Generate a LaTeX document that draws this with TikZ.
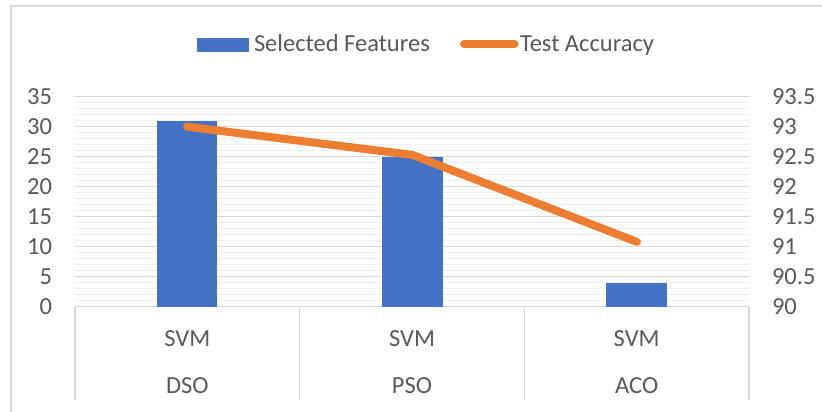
\documentclass[tikz,border=0pt]{standalone}
\usepackage{fontspec}
\setmainfont{Carlito}
\definecolor{barblue}{HTML}{4472C4}
\definecolor{lineorange}{HTML}{ED7D31}
\definecolor{txtgray}{HTML}{595959}
\definecolor{majgrid}{HTML}{D9D9D9}
\definecolor{mingrid}{HTML}{F0F0F0}
\definecolor{framegray}{HTML}{D9D9D9}
\tikzset{
  lbl/.style={text=txtgray, font=\fontsize{24.5}{29}\selectfont, inner sep=0pt, outer sep=0pt},
  barfill/.style={fill=barblue, draw=none},
  accline/.style={draw=lineorange, line width=8pt, line cap=round, line join=round},
  majline/.style={draw=majgrid, line width=1.4pt},
  minline/.style={draw=mingrid, line width=1.3pt},
  axbox/.style={draw=majgrid, line width=1.4pt},
}
\begin{document}
\begin{tikzpicture}[x=1pt,y=-1pt]
\useasboundingbox (0,0) rectangle (822,412);
\fill[white] (0,0) rectangle (822,412);
% outer chart frame
\draw[framegray, line width=1.6pt] (11,412) -- (11,6) -- (822,6);
% gridlines
\foreach \v in {1,...,35}{
  \draw[minline] (75,{306.7-6*\v}) -- (749,{306.7-6*\v});
}
\foreach \v in {5,10,...,35}{
  \draw[majline] (75,{306.7-6*\v}) -- (749,{306.7-6*\v});
}
% left axis labels
\foreach \v in {0,5,...,35}{
  \node[lbl, anchor=east] (l\v) at (52,{306.7-6*\v}) {\v};
}
% right axis labels
\foreach \t/\k in {90/0,90.5/1,91/2,91.5/3,92/4,92.5/5,93/6,93.5/7}{
  \node[lbl, anchor=west] (r\k) at (772,{306.7-30*\k}) {\t};
}
% category axis box
\draw[axbox] (75,306.7) -- (749,306.7);
\foreach \x in {75,299.7,524.3,749}{
  \draw[axbox] (\x,306.7) -- (\x,400);
}
% bars
\fill[barfill] (157,306.7) rectangle (217.3,{306.7-6*31});
\fill[barfill] (381.7,306.7) rectangle (442.7,{306.7-6*25});
\fill[barfill] (606.4,306.7) rectangle (667.4,{306.7-6*4});
% accuracy line
\coordinate (pD) at (187.2,{306.7-60*3.0});
\coordinate (pP) at (412.2,{306.7-60*2.53});
\coordinate (pA) at (636.9,{306.7-60*1.08});
\draw[accline] (pD) -- (pP) -- (pA);
% category labels
\node[lbl] (s1) at (187.3,338.5) {SVM};
\node[lbl] (s2) at (412,338.5) {SVM};
\node[lbl] (s3) at (636.7,338.5) {SVM};
\node[lbl] (c1) at (187.3,385.2) {DSO};
\node[lbl] (c2) at (412,385.2) {PSO};
\node[lbl] (c3) at (636.7,385.2) {ACO};
% legend
\fill[barblue] (197,38.3) rectangle (248.7,51.7);
\node[lbl, anchor=base west] (lg1) at (254,51.7) {Selected Features};
\coordinate (lo1) at (464,44.3);
\coordinate (lo2) at (514.5,44.3);
\draw[accline] (lo1) -- (lo2);
\node[lbl, anchor=base west] (lg2) at (520,51.7) {Test Accuracy};
\end{tikzpicture}
\end{document}
